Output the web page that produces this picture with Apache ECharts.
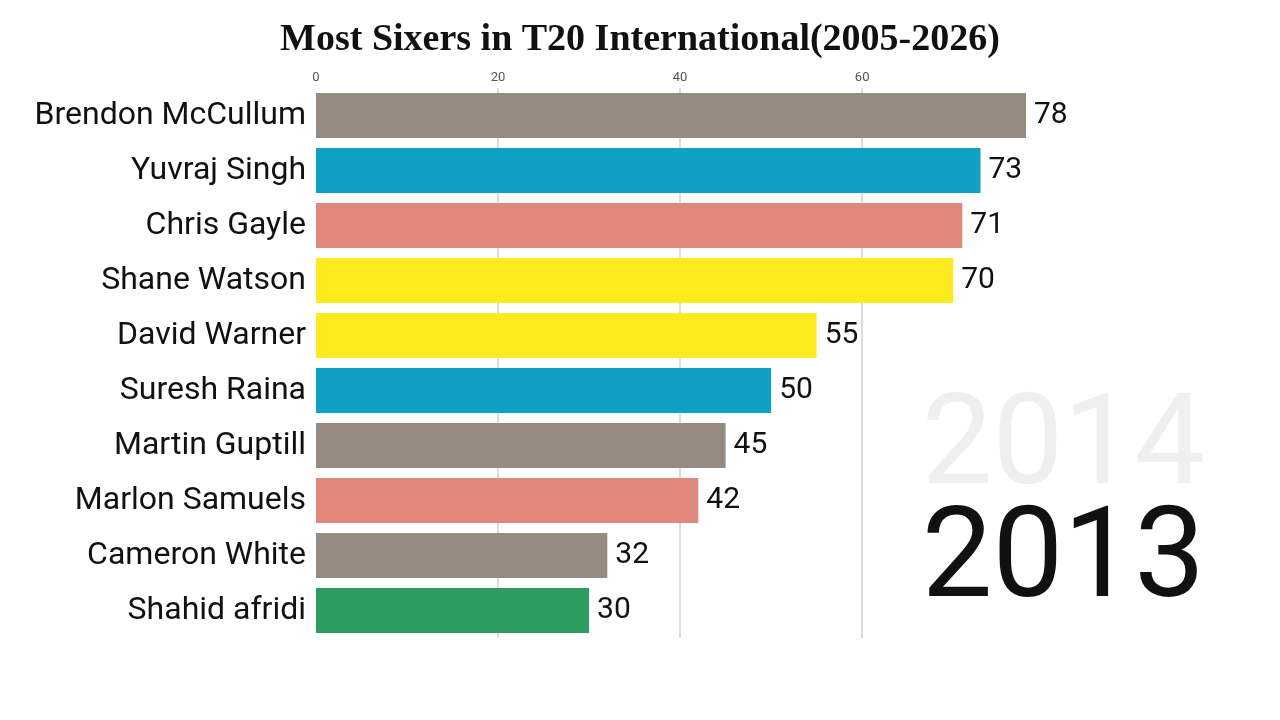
<!DOCTYPE html>
<html><head><meta charset="utf-8">
<script src="https://cdn.jsdelivr.net/npm/echarts@6/dist/echarts.min.js"></script>
<style>html,body{margin:0;padding:0;background:#fff}#c{width:1280px;height:720px}</style>
</head><body><div id="c"></div>
<script>
const categories = ["Brendon McCullum","Yuvraj Singh","Chris Gayle","Shane Watson","David Warner","Suresh Raina","Martin Guptill","Marlon Samuels","Cameron White","Shahid afridi"];
const values = [78,73,71,70,55,50,45,42,32,30];
const barColors = ["#958b81","#10a0c4","#e0887c","#fdea1f","#fdea1f","#10a0c4","#958b81","#e0887c","#958b81","#2e9b5f"];
const gridTicks = [20,40,60];
const currentYear = "2013";
const nextYear = "2014";
const titleText = "Most Sixers in T20 International(2005-2026)";

const chart = echarts.init(document.getElementById('c'));
chart.setOption({
  animation:false,
  backgroundColor:'#fff',
  title:{text:titleText,left:'center',top:16,textStyle:{fontFamily:'Liberation Serif',fontWeight:'bold',fontSize:38,color:'#111'}},
  grid:{left:316,top:88,width:710,height:550,containLabel:false},
  xAxis:{type:'value',position:'top',min:0,max:78,interval:20,
    axisLine:{show:false},axisTick:{show:false},splitLine:{show:false},
    axisLabel:{showMaxLabel:false,fontFamily:'Roboto',fontSize:13,color:'#555',margin:4}},
  yAxis:{type:'category',inverse:true,data:categories,
    axisLine:{show:false},axisTick:{show:false},
    axisLabel:{fontFamily:'Roboto',fontSize:32,color:'#111',margin:10}},
  series:[
    {type:'bar',z:1,data:[],silent:true,
     markLine:{z:1,silent:true,symbol:'none',label:{show:false},lineStyle:{color:'#d0d0d0',width:1.5,type:'solid'},
       data:gridTicks.map(v=>({xAxis:v}))}},
    {type:'bar',z:3,barCategoryGap:'18%',barGap:'-100%',
     data:values.map((v,i)=>({value:v,itemStyle:{color:barColors[i]}})),
     label:{show:true,position:'right',distance:8,fontFamily:'Roboto',fontSize:30,color:'#111'}}
  ],
  graphic:[
    {type:'text',right:75,top:388,z:0,style:{text:nextYear,fontFamily:'Roboto',fontSize:126,fill:'#efefef',textAlign:'right'}},
    {type:'text',right:75,top:501,z:0,style:{text:currentYear,fontFamily:'Roboto',fontSize:126,fill:'#111',textAlign:'right'}}
  ]
});
</script></body></html>
